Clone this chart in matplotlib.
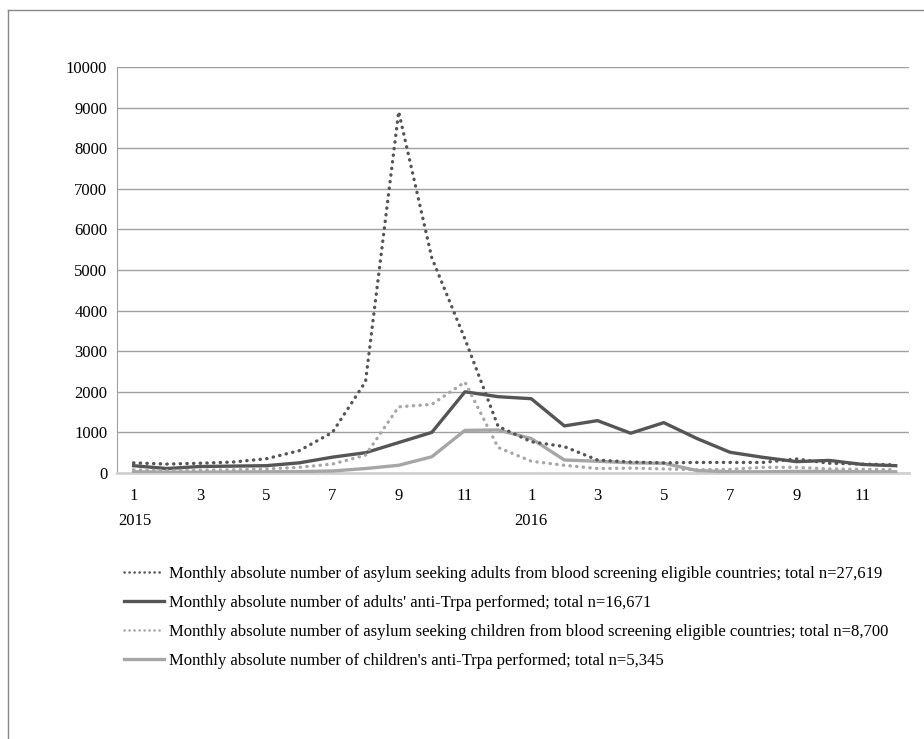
import matplotlib
matplotlib.use('Agg')
import matplotlib.pyplot as plt
from matplotlib.lines import Line2D

# month index 0..23 = Jan 2015 .. Dec 2016
months = list(range(24))
month_labels = [str(m) if m % 2 == 1 else '' for m in list(range(1, 13)) * 2]
years = ['2015', '2016']

adults_seeking = [250, 220, 240, 270, 350, 550, 1000, 2250, 8900, 5300, 3300, 1150,
                  770, 650, 320, 270, 250, 260, 260, 260, 345, 240, 220, 200]
adults_tested = [180, 110, 160, 170, 180, 250, 390, 500, 750, 1000, 2000, 1880,
                 1830, 1160, 1290, 980, 1240, 850, 510, 385, 280, 310, 210, 180]
children_seeking = [80, 60, 70, 80, 100, 140, 220, 440, 1630, 1690, 2240, 630,
                    290, 190, 110, 120, 100, 80, 90, 140, 140, 100, 90, 80]
children_tested = [30, 20, 20, 25, 30, 35, 50, 110, 190, 400, 1050, 1060,
                   850, 320, 290, 250, 240, 60, 30, 30, 40, 40, 30, 30]

labels = [
    'Monthly absolute number of asylum seeking adults from blood screening eligible countries; total n=27,619',
    "Monthly absolute number of adults' anti-Trpa performed; total n=16,671",
    'Monthly absolute number of asylum seeking children from blood screening eligible countries; total n=8,700',
    "Monthly absolute number of children's anti-Trpa performed; total n=5,345",
]

dark = '#555555'
light = '#a6a6a6'
dots = (0, (0.1, 1.9))

plt.rcParams['font.family'] = ['Liberation Serif', 'DejaVu Serif']

fig = plt.figure(figsize=(9.24, 7.39), dpi=100)
ax = fig.add_axes([117 / 924, 1 - 473 / 739, (909 - 117) / 924, (473 - 67) / 739])

ax.plot(months, adults_seeking, color=dark, lw=2.4, linestyle=dots,
        dash_capstyle='round', label=labels[0], zorder=4)
ax.plot(months, adults_tested, color=dark, lw=2.4, label=labels[1], zorder=3)
ax.plot(months, children_seeking, color=light, lw=2.4, linestyle=dots,
        dash_capstyle='round', label=labels[2], zorder=4)
ax.plot(months, children_tested, color=light, lw=2.4, label=labels[3], zorder=3)

ax.set_xlim(-0.5, 23.4)
ax.set_ylim(0, 10000)
ax.set_yticks(range(0, 10001, 1000))
ax.set_xticks(months)
ax.set_xticklabels(month_labels)
ax.tick_params(axis='both', length=0, labelsize=12, colors='black')
ax.tick_params(axis='y', pad=7)
ax.tick_params(axis='x', pad=11)
ax.grid(axis='y', color='#a0a0a0', lw=1)
ax.set_axisbelow(True)
for s in ['top', 'right']:
    ax.spines[s].set_visible(False)
ax.spines['left'].set_color('#a0a0a0')
ax.spines['bottom'].set_color('#d0d0d0')
ax.spines['bottom'].set_linewidth(2)

# year labels under the first month of each year
ax.text(-0.45, -1170, years[0], fontsize=12, ha='left', va='center')
ax.text(12, -1170, years[1], fontsize=12, ha='center', va='center')

handles = [
    Line2D([], [], color=dark, lw=1.8, linestyle=dots, dash_capstyle='round'),
    Line2D([], [], color=dark, lw=2.4),
    Line2D([], [], color=light, lw=1.8, linestyle=dots, dash_capstyle='round'),
    Line2D([], [], color=light, lw=2.4),
]
fig.legend(handles, labels, loc='upper left', bbox_to_anchor=(124 / 924, 1 - 566 / 739),
           frameon=False, fontsize=12, handlelength=2.4, handletextpad=0.3,
           labelspacing=0.78, borderaxespad=0, borderpad=0)

# outer frame (left and top edges)
fig.add_artist(Line2D([8 / 924, 8 / 924], [0, 1 - 10 / 739], color='#888888', lw=1))
fig.add_artist(Line2D([8 / 924, 1], [1 - 10 / 739, 1 - 10 / 739], color='#888888', lw=1))

fig.savefig('out.png', dpi=100)
